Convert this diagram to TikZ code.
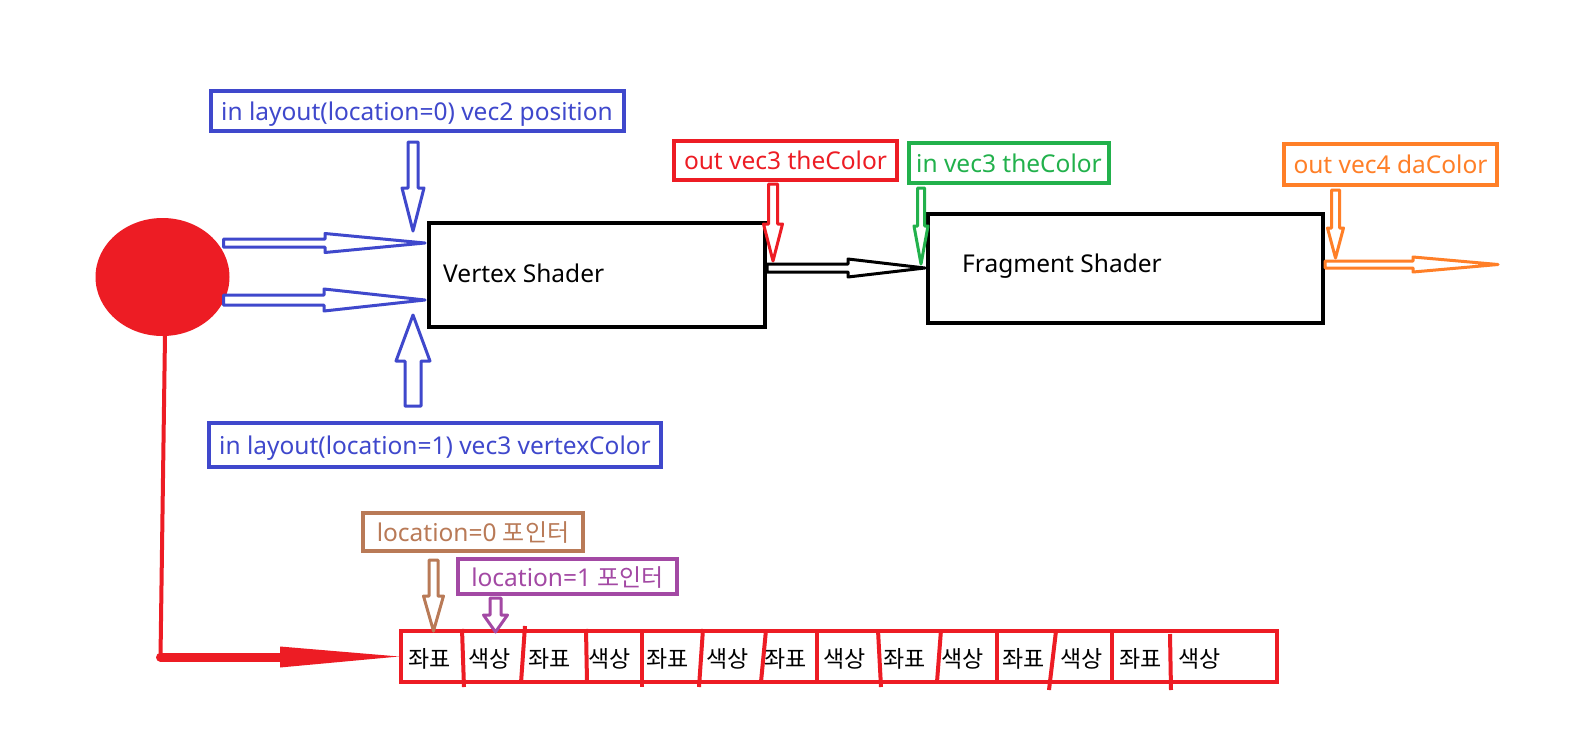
\documentclass[tikz,border=0pt]{standalone}
\usepackage{fontspec}
\setmainfont{Noto Sans}
\newfontfamily\krfont{Noto Sans CJK KR}
\usetikzlibrary{calc,shapes.geometric}
\definecolor{pred}{HTML}{ED1C24}
\definecolor{pblue}{HTML}{3F48CC}
\definecolor{pgreen}{HTML}{22B14C}
\definecolor{porange}{HTML}{FF7F27}
\definecolor{pbrown}{HTML}{B97A57}
\definecolor{ppurple}{HTML}{A349A4}
% #1 colour, #2 start, #3 tip, #4 shaft half width, #5 head half width, #6 head length
\newcommand\blockarrow[6]{%
  \coordinate (ba-h) at ($(#3)!#6!(#2)$);
  \draw[hollowarrow, draw=#1]
    ($(#2)!#4!90:(#3)$) -- ($(ba-h)!#4!-90:(#2)$) -- ($(ba-h)!#5!-90:(#2)$) -- (#3)
    -- ($(ba-h)!#5!90:(#2)$) -- ($(ba-h)!#4!90:(#2)$) -- ($(#2)!#4!-90:(#3)$) -- cycle;
}
\begin{document}
\begin{tikzpicture}[x=1pt,y=-1pt,
  lbl/.style={draw=#1, text=#1, line width=4pt, inner sep=0pt, text depth=0pt,
    font=\fontsize{24.5}{24.5}\selectfont},
  shaderbox/.style={draw=black, line width=4pt, inner sep=0pt},
  shadertext/.style={anchor=west, inner sep=0pt, font=\fontsize{24.5}{24.5}\selectfont},
  cell/.style={anchor=west, inner sep=0pt, font=\krfont\fontsize{23}{23}\selectfont},
  divider/.style={draw=pred, line width=4pt},
  hollowarrow/.style={line width=3pt, line join=round, fill=white}]
\useasboundingbox[fill=white] (0,0) rectangle (1572,747);

% labels
\node[lbl=pblue, minimum width=413pt, minimum height=40pt] (pos0) at (417,111)
  {in layout(location=0) vec2 position};
\node[lbl=pblue, minimum width=452pt, minimum height=44pt] (col1) at (435,445)
  {in layout(location=1) vec3 vertexColor};
\node[lbl=pred, minimum width=223pt, minimum height=39pt] (outc) at (785.5,160.5)
  {out vec3 theColor};
\node[lbl=pgreen, minimum width=200pt, minimum height=40pt] (inc) at (1009,163)
  {in vec3 theColor};
\node[lbl=porange, minimum width=213pt, minimum height=41pt] (outd) at (1390.5,164.5)
  {out vec4 daColor};
\node[lbl=pbrown, minimum width=220pt, minimum height=38pt] (loc0) at (473,532)
  {location=0 {\krfont\fontsize{24}{24}\selectfont 포인터}};
\node[lbl=ppurple, minimum width=219pt, minimum height=35pt] (loc1) at (567.5,576.5)
  {location=1 {\krfont\fontsize{24}{24}\selectfont 포인터}};

% shaders
\node[shaderbox, minimum width=336pt, minimum height=104pt] (vs) at (597,275) {};
\node[shadertext] (vst) at (443,273) {Vertex Shader};
\node[shaderbox, minimum width=395pt, minimum height=109pt] (fs) at (1125.5,268.5) {};
\node[shadertext] (fst) at (962,266) {Fragment Shader};

% red source
\node[ellipse, fill=pred, inner sep=0pt, minimum width=134pt, minimum height=118pt] (circ) at (162.5,277) {};

% array
\node[draw=pred, line width=4pt, inner sep=0pt, minimum width=876pt, minimum height=51pt] (arr) at (839,656.5) {};
\draw[divider] (462,629) -- (464,687);
\draw[divider] (525,626) -- (521,683);
\draw[divider] (586,629) -- (587,682);
\draw[divider] (642,630) -- (642,687);
\draw[divider] (703,629) -- (699,687);
\draw[divider] (766,630) -- (761,682);
\draw[divider] (817,629) -- (817,682);
\draw[divider] (878,630) -- (881,687);
\draw[divider] (941,630) -- (937,682);
\draw[divider] (997,630) -- (997,682);
\draw[divider] (1056,631) -- (1049,690);
\draw[divider] (1112,630) -- (1112,682);
\draw[divider] (1170,634) -- (1171,690);
\node[cell] (c1) at (408,659) {좌표};
\node[cell] (c2) at (468,659) {색상};
\node[cell] (c3) at (528,659) {좌표};
\node[cell] (c4) at (588,659) {색상};
\node[cell] (c5) at (646,659) {좌표};
\node[cell] (c6) at (706,659) {색상};
\node[cell] (c7) at (764,659) {좌표};
\node[cell] (c8) at (823,659) {색상};
\node[cell] (c9) at (883,659) {좌표};
\node[cell] (c10) at (941,659) {색상};
\node[cell] (c11) at (1002,659) {좌표};
\node[cell] (c12) at (1060,659) {색상};
\node[cell] (c13) at (1119,659) {좌표};
\node[cell] (c14) at (1178,659) {색상};

% arrow end points
\coordinate (a1s) at (413,142);  \coordinate (a1t) at (413,231);
\coordinate (a2s) at (223.5,243); \coordinate (a2t) at (425,243);
\coordinate (a3s) at (223.5,300); \coordinate (a3t) at (425,300);
\coordinate (a4s) at (413,406);  \coordinate (a4t) at (413,315);
\coordinate (a5s) at (773,184);  \coordinate (a5t) at (773,261);
\coordinate (a6s) at (767,268);  \coordinate (a6t) at (925,268);
\coordinate (a7s) at (921,188);  \coordinate (a7t) at (921,264);
\coordinate (a8s) at (1335.5,190); \coordinate (a8t) at (1335.5,258);
\coordinate (a9s) at (1325,264.5); \coordinate (a9t) at (1498,264.5);
\coordinate (a10s) at (433.5,560); \coordinate (a10t) at (433.5,631);
\coordinate (a11s) at (495.5,598); \coordinate (a11t) at (495.5,632);

\blockarrow{pblue}{a1s}{a1t}{5pt}{11pt}{43pt}
\blockarrow{pblue}{a2s}{a2t}{4pt}{9.5pt}{100pt}
\blockarrow{pblue}{a3s}{a3t}{5pt}{11pt}{101pt}
\blockarrow{pblue}{a4s}{a4t}{8pt}{17pt}{46pt}
\blockarrow{pred}{a5s}{a5t}{4.5pt}{9.5pt}{37pt}
\blockarrow{black}{a6s}{a6t}{4pt}{9pt}{77pt}
\blockarrow{pgreen}{a7s}{a7t}{3.5pt}{7pt}{38pt}
\blockarrow{porange}{a8s}{a8t}{4pt}{8pt}{30pt}
\blockarrow{porange}{a9s}{a9t}{3.5pt}{7.5pt}{85pt}
\blockarrow{pbrown}{a10s}{a10t}{4.5pt}{10pt}{35pt}
\blockarrow{ppurple}{a11s}{a11t}{5.5pt}{12pt}{17pt}

% red pointer line from source to array
\coordinate (bend) at (160.5,657);
\coordinate (headbase) at (282,657);
\draw[pred, line width=4pt] (circ.south) ++(2.5,-1) -- (bend);
\draw[pred, line width=9pt, line cap=round] (bend) -- (headbase);
\fill[pred] (280,646.5) -- (arr.west) -- (280,667.5) -- cycle;
\end{tikzpicture}
\end{document}
